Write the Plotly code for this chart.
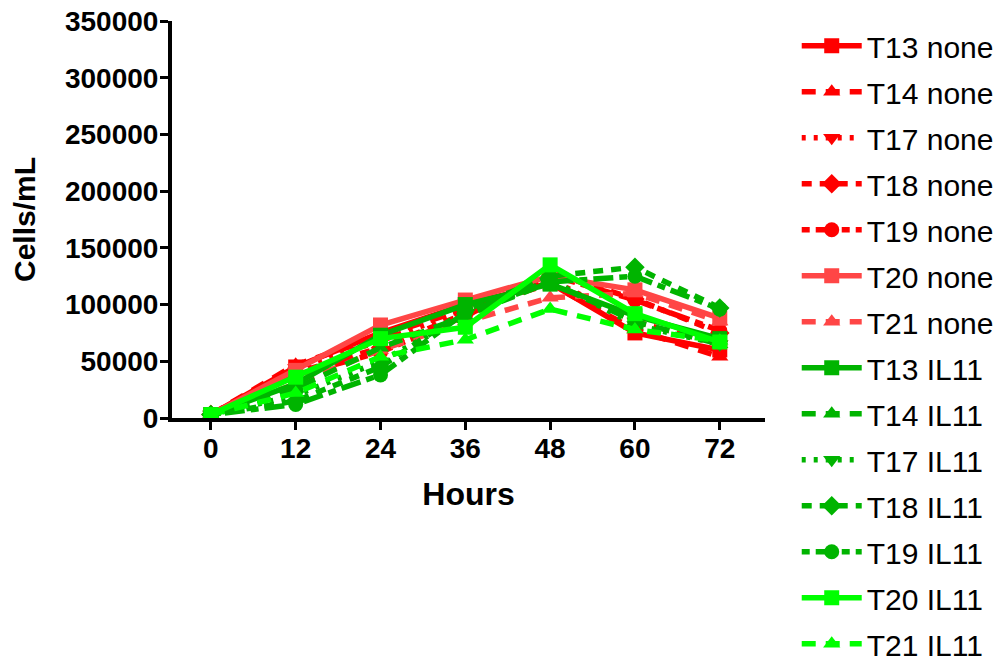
import plotly.graph_objects as go

hours = [0, 12, 24, 36, 48, 60, 72]
series_names = ["T13 none", "T14 none", "T17 none", "T18 none", "T19 none", "T20 none", "T21 none",
                "T13 IL11", "T14 IL11", "T17 IL11", "T18 IL11", "T19 IL11", "T20 IL11", "T21 IL11"]
t13_none = [3000, 45000, 75000, 100000, 119000, 75000, 60000]
t14_none = [3000, 47000, 72000, 96000, 118000, 78000, 54000]
t17_none = [3000, 44000, 68000, 95000, 122000, 85000, 65000]
t18_none = [3000, 40000, 62000, 92000, 128000, 105000, 75000]
t19_none = [3000, 38000, 58000, 90000, 126000, 104000, 77000]
t20_none = [3000, 42000, 82000, 104000, 125000, 113000, 88000]
t21_none = [3000, 30000, 60000, 85000, 106000, 110000, 85000]
t13_il11 = [3000, 30000, 73000, 100000, 118000, 90000, 70000]
t14_il11 = [3000, 26000, 62000, 90000, 120000, 85000, 65000]
t17_il11 = [3000, 20000, 50000, 90000, 122000, 82000, 65000]
t18_il11 = [3000, 15000, 45000, 95000, 125000, 133000, 97000]
t19_il11 = [3000, 12000, 38000, 93000, 120000, 125000, 96000]
t20_il11 = [3000, 36000, 70000, 80000, 135000, 92000, 67000]
t21_il11 = [3000, 22000, 54000, 69000, 96000, 78000, 68000]
values = [t13_none, t14_none, t17_none, t18_none, t19_none, t20_none, t21_none,
          t13_il11, t14_il11, t17_il11, t18_il11, t19_il11, t20_il11, t21_il11]

symbols = ["square", "triangle-up", "triangle-down", "diamond", "circle", "square", "triangle-up"] * 2
dashes = ["solid", "14px,10px", "4px,8px", "10px,8px", "8px,6px,20px,6px", "solid", "14px,10px"] * 2
colors = ["#FF0000"] * 5 + ["#FF4646"] * 2 + ["#00B400"] * 5 + ["#00FF00"] * 2

fig = go.Figure()
for i, (name, vals) in enumerate(zip(series_names, values)):
    fig.add_trace(go.Scatter(
        x=hours, y=vals, name=name, mode="lines+markers", legendgroup=name,
        line=dict(color=colors[i], width=5.5, dash=dashes[i]),
        marker=dict(symbol=symbols[i], size=15, color=colors[i]),
    ))

axis_font = dict(family="Liberation Sans, Arial", size=28, color="black", weight="bold")
fig.update_layout(
    width=1008, height=656,
    margin=dict(l=164, r=251, t=13, b=246, autoexpand=False),
    plot_bgcolor="white", paper_bgcolor="white",
    font=dict(family="Liberation Sans, Arial", color="black"),
    legend=dict(x=1.0535, y=0.982, xanchor="left", yanchor="top", yref="container",
                maxheight=1, font=dict(size=30, color="black"), tracegroupgap=4,
                itemwidth=60, bgcolor="rgba(0,0,0,0)"),
    xaxis=dict(range=[-5.5, 78.4], tickvals=hours, ticktext=[str(h) for h in hours],
               showline=True, linewidth=4, linecolor="black", ticks="outside",
               ticklen=8, tickwidth=3, tickcolor="black", showgrid=False, zeroline=False,
               tickfont=axis_font, automargin=False, ticklabelstandoff=-6,
               ticklabeloverflow="allow",
               title=dict(text="<b>Hours</b>", font=dict(size=32, color="black"), standoff=21)),
    yaxis=dict(range=[0, 350000], tickvals=[0, 50000, 100000, 150000, 200000, 250000, 300000, 350000],
               ticktext=["0", "50000", "100000", "150000", "200000", "250000", "300000", "350000"],
               showline=True, linewidth=4, linecolor="black", ticks="outside",
               ticklen=8, tickwidth=3, tickcolor="black", showgrid=False, zeroline=False,
               tickfont=axis_font, automargin=False, ticklabelstandoff=-4,
               ticklabeloverflow="allow",
               title=dict(text="<b>Cells/mL</b>", font=dict(size=30, color="black"), standoff=22)),
)

fig.write_html("out.html")
